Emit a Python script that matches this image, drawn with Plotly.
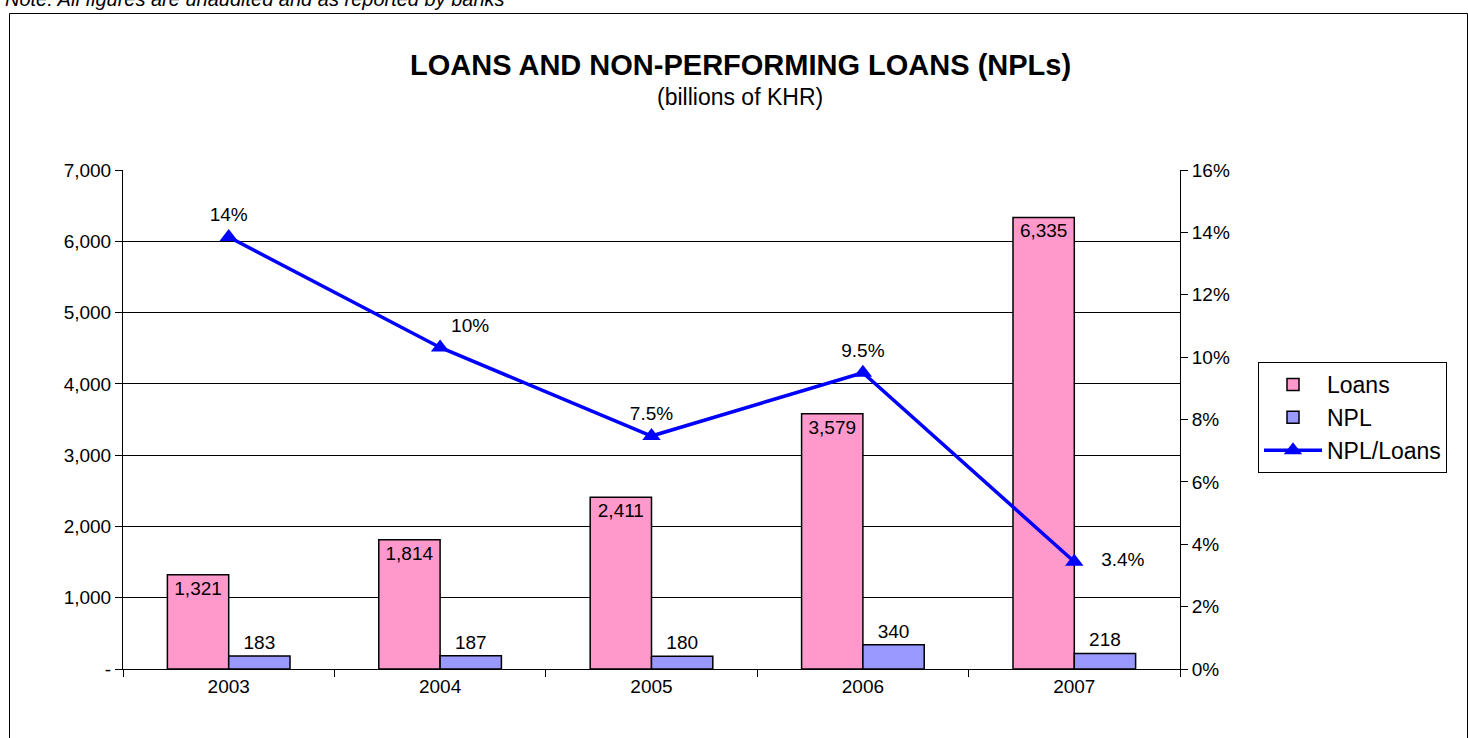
import plotly.graph_objects as go

years = ["2003", "2004", "2005", "2006", "2007"]
loans = [1321, 1814, 2411, 3579, 6335]
npl = [183, 187, 180, 340, 218]
ratio = [13.85, 10.31, 7.47, 9.50, 3.44]
ratio_labels = ["14%", "10%", "7.5%", "9.5%", "   3.4%"]
ratio_pos = ["top center", "top right", "top center", "top center", "middle right"]
left_ticks = [0, 1000, 2000, 3000, 4000, 5000, 6000, 7000]
left_ticktext = ["-", "1,000", "2,000", "3,000", "4,000", "5,000", "6,000", "7,000"]
right_ticks = [0, 2, 4, 6, 8, 10, 12, 14, 16]
right_ticktext = ["0%", "2%", "4%", "6%", "8%", "10%", "12%", "14%", "16%"]

FONT = "Arial, Liberation Sans, sans-serif"
W, H = 1468, 738
L, R, T, B = 123, 1468 - 1180, 170, 738 - 669
PW, PH = W - L - R, H - T - B


def px_x(p):
    return (p - L) / PW


def px_y(p):
    return (H - B - p) / PH


fig = go.Figure()
fig.add_trace(go.Bar(
    x=years, y=loans, name="Loans",
    marker=dict(color="#FF99CC", line=dict(color="black", width=1.5)),
    text=[f"{v:,}" for v in loans], textposition="inside", insidetextanchor="end",
    textfont=dict(size=19, color="black", family=FONT), constraintext="none",
    legendgroup="a",
))
fig.add_trace(go.Bar(
    x=years, y=npl, name="NPL",
    marker=dict(color="#9999FF", line=dict(color="black", width=1.5)),
    text=[f"{v:,}" for v in npl], textposition="outside",
    textfont=dict(size=19, color="black", family=FONT), constraintext="none",
    cliponaxis=False, legendgroup="b",
))
fig.add_trace(go.Scatter(
    x=years, y=ratio, name="NPL/Loans", yaxis="y2",
    mode="lines+markers+text",
    line=dict(color="#0000FF", width=3.5),
    marker=dict(symbol="triangle-up", size=16, color="#0000FF"),
    text=ratio_labels, textposition=ratio_pos,
    textfont=dict(size=19, color="black", family=FONT),
    cliponaxis=False, legendgroup="c",
))

fig.update_layout(
    width=W, height=H,
    margin=dict(l=L, r=R, t=T, b=B),
    paper_bgcolor="white", plot_bgcolor="white",
    font=dict(family=FONT, color="black", size=19),
    barmode="group", bargap=0.42, bargroupgap=0,
    showlegend=True,
    legend=dict(x=px_x(1258), y=px_y(362), xanchor="left", yanchor="top",
                bordercolor="black", borderwidth=1, bgcolor="white",
                font=dict(size=23, family=FONT), tracegroupgap=8,
                itemwidth=58, traceorder="normal"),
    xaxis=dict(type="category", showline=True, linecolor="black", linewidth=1,
               ticks="outside", ticklen=7, tickcolor="black", tickson="boundaries",
               showgrid=False, tickfont=dict(size=19)),
    yaxis=dict(range=[0, 7000], tickvals=left_ticks, ticktext=left_ticktext,
               showline=True, linecolor="black", linewidth=1,
               ticks="outside", ticklen=7, tickcolor="black",
               showgrid=True, gridcolor="black", gridwidth=1,
               zeroline=False, tickfont=dict(size=19)),
    yaxis2=dict(range=[0, 16], tickvals=right_ticks, ticktext=right_ticktext,
                overlaying="y", side="right",
                showline=True, linecolor="black", linewidth=1,
                ticks="outside", ticklen=7, tickcolor="black",
                showgrid=False, zeroline=False, tickfont=dict(size=19)),
    title=None,
)

fig.add_annotation(text="<b>LOANS AND NON-PERFORMING LOANS (NPLs)</b>",
                   xref="paper", yref="paper", x=px_x(740), y=px_y(65),
                   xanchor="center", yanchor="middle", showarrow=False,
                   font=dict(size=29, family=FONT))
fig.add_annotation(text="(billions of KHR)",
                   xref="paper", yref="paper", x=px_x(740), y=px_y(97),
                   xanchor="center", yanchor="middle", showarrow=False,
                   font=dict(size=23, family=FONT))
fig.add_annotation(text="<i>Note: All figures are unaudited and as reported by banks</i>",
                   xref="paper", yref="paper", x=px_x(3), y=px_y(-1),
                   xanchor="left", yanchor="middle", showarrow=False,
                   font=dict(size=20, family=FONT))
fig.add_shape(type="rect", xref="paper", yref="paper",
              x0=px_x(9.5), x1=px_x(1467.5), y0=px_y(745), y1=px_y(13.5),
              line=dict(color="black", width=1), layer="below")

fig.write_html("out.html", config={"displayModeBar": False},
               post_script="document.body.style.margin='0';")
